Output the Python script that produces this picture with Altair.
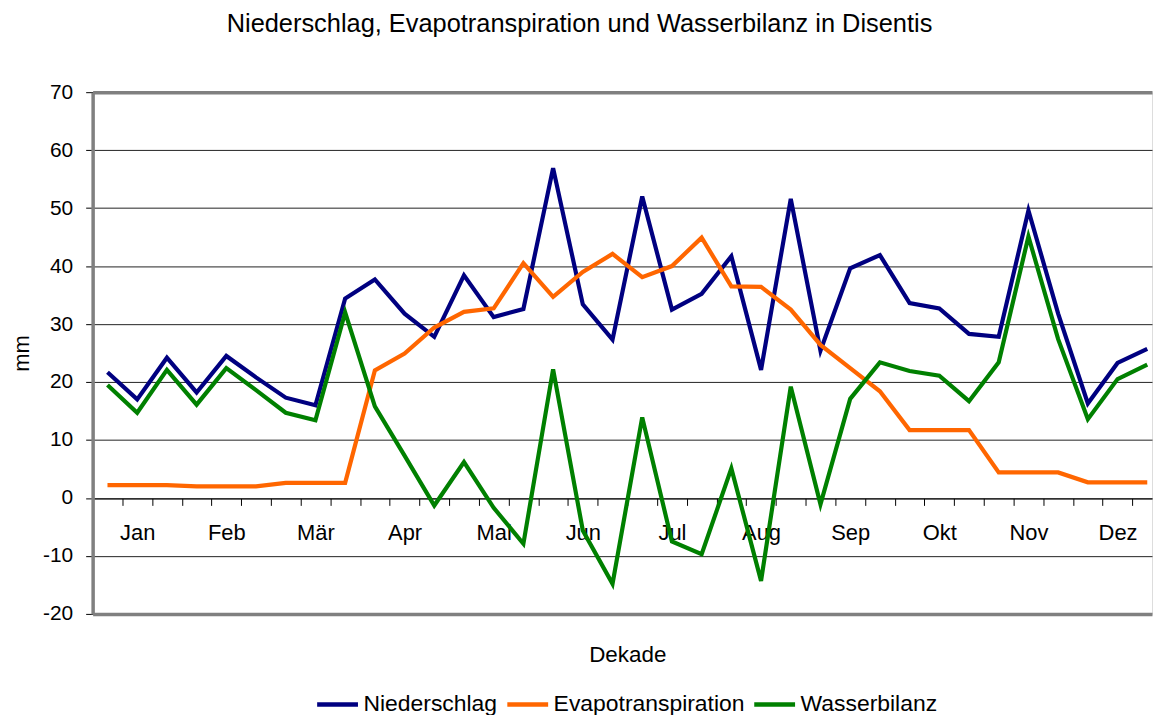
import altair as alt
import pandas as pd

months = ["Jan", "Feb", "Mär", "Apr", "Mai", "Jun", "Jul", "Aug", "Sep", "Okt", "Nov", "Dez"]
series_names = ["Niederschlag", "Evapotranspiration", "Wasserbilanz"]
series_colors = ["#000080", "#FF6600", "#008000"]

niederschlag = [21.7, 17.0, 24.2, 18.2, 24.5, 20.8, 17.3, 16.0, 34.4,
                37.7, 31.8, 27.8, 38.4, 31.2, 32.6, 56.9, 33.4, 27.3,
                52.0, 32.5, 35.2, 41.7, 22.1, 51.6, 25.4, 39.6, 41.9,
                33.6, 32.7, 28.3, 27.8, 49.6, 31.8, 16.3, 23.3, 25.7]
evapotranspiration = [2.2, 2.2, 2.2, 2.0, 2.0, 2.0, 2.6, 2.6, 2.6,
                      22.0, 24.9, 29.4, 32.1, 32.7, 40.5, 34.7, 39.0, 42.1,
                      38.1, 40.0, 44.9, 36.5, 36.4, 32.5, 26.4, 22.4, 18.4,
                      11.7, 11.7, 11.7, 4.4, 4.4, 4.4, 2.7, 2.7, 2.7]
wasserbilanz = [19.5, 14.7, 22.1, 16.1, 22.4, 18.6, 14.7, 13.4, 32.0,
                15.8, 7.3, -1.3, 6.2, -1.7, -7.9, 22.2, -5.6, -14.8,
                13.9, -7.5, -9.7, 5.1, -14.3, 19.2, -1.1, 17.1, 23.4,
                21.9, 21.1, 16.7, 23.4, 45.1, 27.4, 13.6, 20.5, 23.0]

y_ticks = [-20, -10, 0, 10, 20, 30, 40, 50, 60, 70]
x_boundaries = [i - 0.5 for i in range(36)]

rows = []
for name, vals in zip(series_names, [niederschlag, evapotranspiration, wasserbilanz]):
    for i, v in enumerate(vals):
        rows.append({"dekade": i, "mm": v, "serie": name})
df = pd.DataFrame(rows)

FONT = "Liberation Sans"
month_arr = "[" + ",".join("'" + m + "'" for m in months) + "]"
label_expr = ("(round(datum.value + 0.5) % 3 == 0) ? "
              + month_arr + "[round((datum.value + 0.5) / 3)] : ''")

band = 1064 / 35.66

x_enc = alt.X(
    "dekade:Q",
    scale=alt.Scale(domain=[-0.5, 35.16], nice=False, zero=False),
    axis=alt.Axis(
        values=x_boundaries,
        labelExpr=label_expr,
        labelOffset=1.5 * band,
        labelFlush=False,
        labelOverlap=False,
        labelFont=FONT,
        labelFontSize=22,
        labelColor="black",
        labelPadding=17,
        tickSize=7,
        tickColor="black",
        tickWidth=1,
        domainColor="black",
        domainWidth=1,
        offset=-116,
        grid=False,
        title="Dekade",
        titleFont=FONT,
        titleFontSize=22.5,
        titleFontWeight="normal",
        titleColor="black",
        titleX=537,
        titleY=164,
        titleBaseline="alphabetic",
    ),
)

y_enc = alt.Y(
    "mm:Q",
    scale=alt.Scale(domain=[-20, 70], nice=False, zero=False),
    axis=alt.Axis(
        values=y_ticks,
        labelExpr="'' + datum.value",
        grid=True,
        gridColor={"condition": {"test": "datum.value == 70 || datum.value == -20", "value": "#808080"}, "value": "#222222"},
        gridWidth={"condition": {"test": "datum.value == 70 || datum.value == -20", "value": 3.5}, "value": 1},
        domainColor="#808080",
        domainWidth=3.5,
        tickColor="black",
        tickSize=7,
        tickWidth=1,
        labelFont=FONT,
        labelFontSize=21,
        labelColor="black",
        labelPadding=13,
        title="mm",
        titleFont=FONT,
        titleFontSize=22,
        titleFontWeight="normal",
        titleColor="black",
        titleX=-64,
        titleBaseline="alphabetic",
    ),
)

color_enc = alt.Color(
    "serie:N",
    scale=alt.Scale(domain=series_names, range=series_colors),
    legend=alt.Legend(
        orient="none",
        legendX=223,
        legendY=592,
        direction="horizontal",
        title=None,
        symbolType="stroke",
        symbolSize=1681,
        symbolStrokeWidth=4.5,
        labelFont=FONT,
        labelFontSize=23,
        labelColor="black",
        labelOffset=3,
        columnPadding=0,
        padding=0,
        labelLimit=0,
    ),
)

chart = (
    alt.Chart(df)
    .mark_line(strokeWidth=4.2, strokeJoin="miter")
    .encode(x=x_enc, y=y_enc, color=color_enc, order="dekade:Q")
    .properties(
        width=1064,
        height=524,
        autosize=alt.AutoSizeParams(type="none"),
        padding={"left": 85, "top": 83, "right": 3, "bottom": 100},
        title=alt.TitleParams(
            text="Niederschlag, Evapotranspiration und Wasserbilanz in Disentis",
            font=FONT,
            fontSize=25.5,
            fontWeight="normal",
            color="black",
            anchor="middle",
            dx=-43,
            offset=24,
            baseline="alphabetic",
        ),
    )
    .configure_view(stroke=None)
    .configure(background="white")
)

chart.save("out.html", embed_options={"renderer": "svg", "actions": False})
